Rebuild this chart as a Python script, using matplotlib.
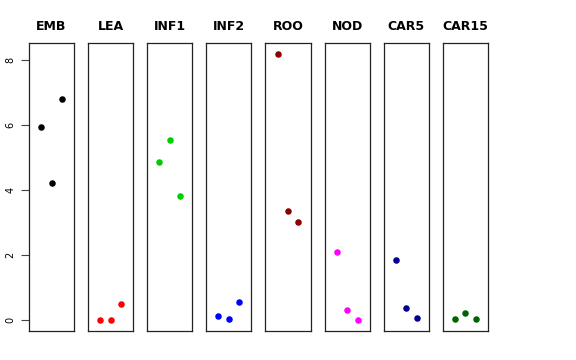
import matplotlib
matplotlib.use("Agg")
import matplotlib.pyplot as plt

groups = ["EMB", "LEA", "INF1", "INF2", "ROO", "NOD", "CAR5", "CAR15"]
colors = ["black", "red", "#00CD00", "blue", "#8B0000", "magenta", "#00008B", "#006400"]

emb = [5.93, 4.23, 6.79]
lea = [0.0, 0.0, 0.49]
inf1 = [4.86, 5.53, 3.82]
inf2 = [0.12, 0.05, 0.57]
roo = [8.19, 3.37, 3.02]
nod = [2.09, 0.32, 0.0]
car5 = [1.84, 0.37, 0.06]
car15 = [0.05, 0.22, 0.05]
values = [emb, lea, inf1, inf2, roo, nod, car5, car15]
xpos = [1, 2, 3]

fig, axes = plt.subplots(1, 8, figsize=(5.76, 3.6), dpi=100, sharey=True)
fig.subplots_adjust(left=0.0503, right=0.847, top=0.8806, bottom=0.0806, wspace=0.31)

for ax, name, col, vals in zip(axes, groups, colors, values):
    ax.scatter(xpos, vals, color=col, s=22, zorder=3, linewidths=0)
    ax.set_xlim(-0.16, 4.16)
    ax.set_ylim(-0.33, 8.52)
    ax.set_xticks([])
    ax.set_title(name, fontsize=9, fontweight="bold", pad=9)
    for s in ax.spines.values():
        s.set_color("#222222")
        s.set_linewidth(0.9)
    ax.tick_params(axis="y", length=0)

axes[0].set_yticks([0, 2, 4, 6, 8])
axes[0].tick_params(axis="y", length=6, width=0.8, color="#444444", labelsize=7, pad=4)
for lab in axes[0].get_yticklabels():
    lab.set_rotation(90)
    lab.set_va("center")

fig.savefig("out.png", dpi=100)
